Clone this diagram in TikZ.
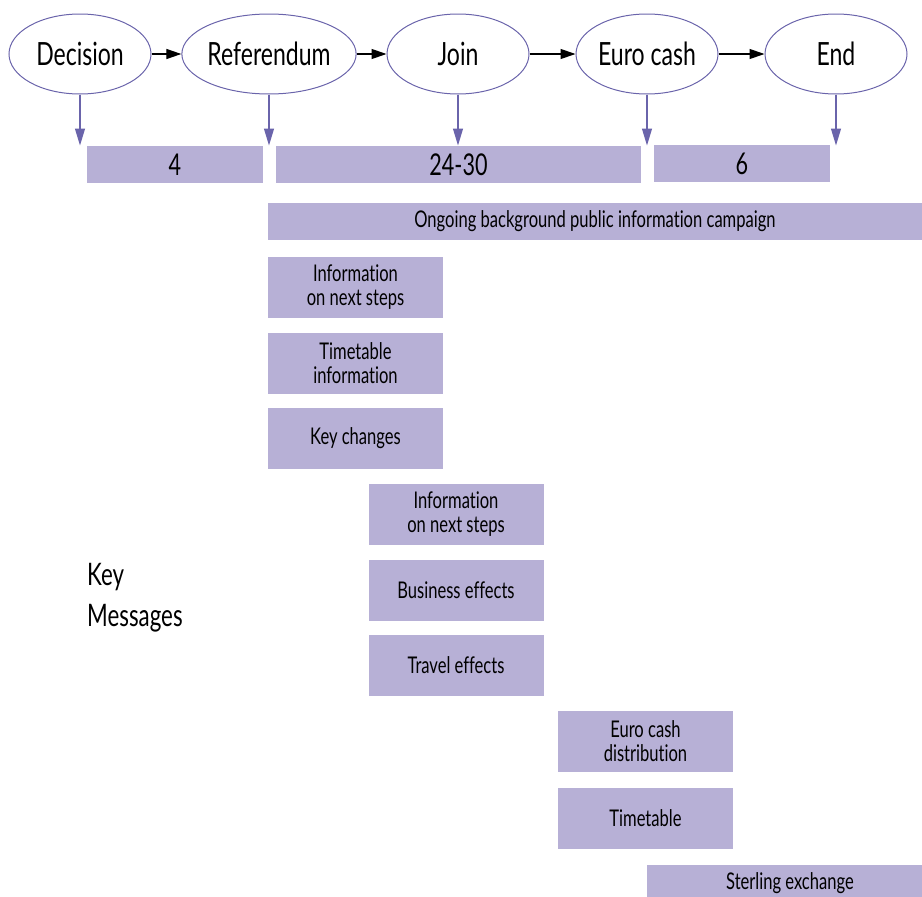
\documentclass[tikz,border=0pt]{standalone}
\usepackage{fontspec}
\setmainfont[FakeStretch=0.72, Ligatures=NoCommon]{Lato}
\usetikzlibrary{arrows.meta, shapes.geometric}
\definecolor{lila}{RGB}{183,176,214}
\definecolor{violett}{RGB}{106,100,171}

\begin{document}
\begin{tikzpicture}[x=1pt, y=-1pt,
        etappe/.style={draw=violett, line width=1pt, ellipse, minimum width=142pt, minimum height=80pt, inner sep=0pt, font=\fontsize{32}{36}\selectfont},
        balken/.style={fill=lila, inner sep=0pt, minimum height=37pt, font=\fontsize{#1}{24}\selectfont},
        balken/.default=30,
        kasten/.style={fill=lila, inner sep=0pt, minimum width=175pt, minimum height=61pt, align=center, font=\fontsize{23}{24}\selectfont},
        weiter/.style={-{Triangle[length=15pt,width=10pt]}, line width=1.2pt},   %Pfeile zwischen Etappen
        runter/.style={-{Triangle[length=17pt,width=10pt]}, violett, line width=1.2pt}]
        \useasboundingbox (0,0) rectangle (922,897);
        \clip (0,0) rectangle (922,897); %Bildbereich
        % Etappen
        \node[etappe] (dec)  at (80,54)  {Decision};
        \node[etappe] (ref)  at (269,54) {Referendum};
        \node[etappe] (join) at (458,54) {Join};
        \node[etappe] (cash) at (647,54) {Euro cash};
        \node[etappe] (fin)  at (836,54) {End};
        \foreach \a/\b in {dec/ref, ref/join, join/cash, cash/fin}
            \draw[weiter] (\a) -- (\b);
        \foreach \n in {dec, ref, join, cash, fin} {
            \coordinate (\n-x) at ([yshift=-51pt]\n.south);
            \draw[runter] (\n.south) -- (\n-x);
        }
        % Dauer
        \node[balken, minimum width=176pt] (d1) at (175,164.5)   {4};
        \node[balken, minimum width=365pt] (d2) at (458.5,164.5) {24-30};
        \node[balken, minimum width=176pt] (d3) at (742,163.5)   {6};
        \node[balken=23, minimum width=654pt] (kampagne) at (595,221) {Ongoing background public information campaign};
        % Botschaften
        \node[kasten] (k1) at (355.5,287.5) {Information\\on next steps};
        \node[kasten] (k2) at (355.5,363)   {Timetable\\information};
        \node[kasten] (k3) at (355.5,438)   {Key changes};
        \node[kasten] (k4) at (456,514.5)   {Information\\on next steps};
        \node[kasten] (k5) at (456,590.5)   {Business effects};
        \node[kasten] (k6) at (456,665)     {Travel effects};
        \node[kasten] (k7) at (645.5,741.5) {Euro cash\\distribution};
        \node[kasten] (k8) at (645.5,818)   {Timetable};
        \node[balken=23, minimum width=286pt] (k9) at (790,883.5) {Sterling exchange};
        %Beschriftung
        \node[anchor=west, align=left, inner sep=0pt, font=\fontsize{31}{41}\selectfont] (key) at (87,598) {Key\\Messages};
    \end{tikzpicture}
\end{document}
